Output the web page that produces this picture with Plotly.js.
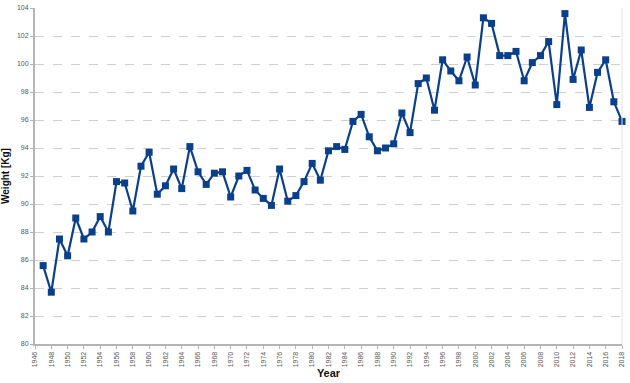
<!DOCTYPE html>
<html>
<head>
<meta charset="utf-8">
<script src="https://cdn.plot.ly/plotly-3.0.1.min.js"></script>
<style>html,body{margin:0;padding:0;background:#fff;}#chart{width:630px;height:383px;}</style>
</head>
<body>
<div id="chart"></div>
<script>
const years = [];
for (let y = 1947; y <= 2018; y++) years.push(y);
const weights = [
  85.6, 83.7, 87.5, 86.3, 89.0, 87.5, 88.0, 89.1, 88.0, 91.6,
  91.5, 89.5, 92.7, 93.7, 90.7, 91.3, 92.5, 91.1, 94.1, 92.3,
  91.4, 92.2, 92.3, 90.5, 92.0, 92.4, 91.0, 90.4, 89.9, 92.5,
  90.2, 90.6, 91.6, 92.9, 91.7, 93.8, 94.1, 93.9, 95.9, 96.4,
  94.8, 93.8, 94.0, 94.3, 96.5, 95.1, 98.6, 99.0, 96.7, 100.3,
  99.5, 98.8, 100.5, 98.5, 103.3, 102.9, 100.6, 100.6, 100.9, 98.8,
  100.1, 100.6, 101.6, 97.1, 103.6, 98.9, 101.0, 96.9, 99.4, 100.3,
  97.3, 95.9
];
const xTitle = "Year";
const yTitle = "Weight [Kg]";

const trace = {
  x: years, y: weights, type: 'scatter', mode: 'lines+markers',
  line: {color: '#0a3f8a', width: 2.2},
  marker: {symbol: 'square', size: 7, color: '#0a3f8a'},
  cliponaxis: false,
  hoverinfo: 'none'
};
const layout = {
  width: 630, height: 383,
  margin: {l: 35, r: 8, t: 8, b: 39},
  paper_bgcolor: '#fff', plot_bgcolor: '#fff',
  showlegend: false,
  font: {family: 'Liberation Sans, Arial, sans-serif', color: '#555'},
  xaxis: {
    range: [1946, 2018], tickmode: 'linear', tick0: 1946, dtick: 2,
    tickangle: -90, tickfont: {size: 7, color: '#555'},
    showgrid: false, zeroline: false,
    showline: true, linecolor: '#b4b4b4', linewidth: 2,
    ticks: 'outside', ticklen: 3, tickcolor: '#b4b4b4', tickwidth: 1,
    mirror: false,
    title: {text: xTitle, font: {size: 11, color: '#111', family: 'Liberation Sans, Arial, sans-serif', weight: 'bold'}, standoff: 1}
  },
  yaxis: {
    range: [80, 104], tickmode: 'linear', tick0: 80, dtick: 2,
    tickfont: {size: 7, color: '#555'},
    showgrid: true, gridcolor: '#cfcfcf', griddash: 'dash', gridwidth: 1,
    zeroline: false,
    showline: true, linecolor: '#b4b4b4', linewidth: 2,
    ticks: 'outside', ticklen: 3, tickcolor: '#b4b4b4', tickwidth: 1,
    title: {text: yTitle, font: {size: 10, color: '#111', family: 'Liberation Sans, Arial, sans-serif', weight: 'bold'}, standoff: 8}
  },
  shapes: [{type: 'line', xref: 'paper', yref: 'paper', x0: 1, x1: 1, y0: 0, y1: 1, line: {color: '#e4e4e4', width: 1}}]
};
Plotly.newPlot('chart', [trace], layout, {displayModeBar: false, staticPlot: true});
</script>
</body>
</html>
